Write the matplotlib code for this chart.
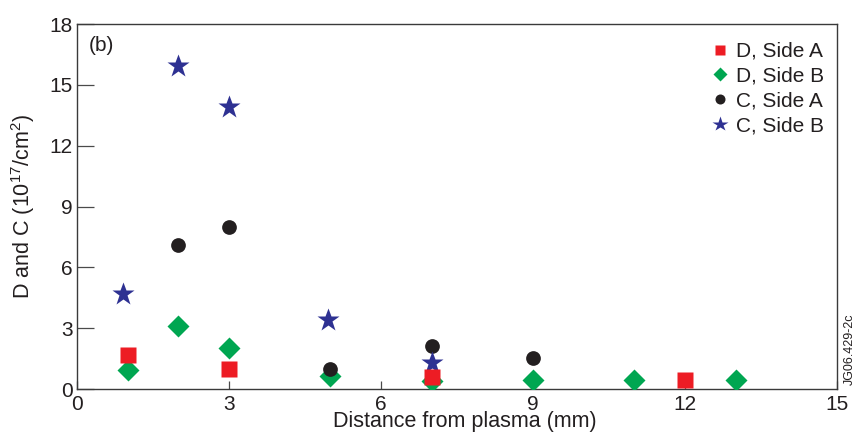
import matplotlib
matplotlib.use("Agg")
import matplotlib.pyplot as plt

plt.rcParams["font.family"] = ["Liberation Sans", "DejaVu Sans"]
plt.rcParams["mathtext.fontset"] = "custom"
plt.rcParams["mathtext.rm"] = "Liberation Sans"

# values
d_side_a_x = [1, 3, 7, 12]
d_side_a_y = [1.68, 1.0, 0.57, 0.45]

d_side_b_x = [1, 2, 3, 5, 7, 9, 11, 13]
d_side_b_y = [0.94, 3.1, 2.0, 0.62, 0.37, 0.44, 0.44, 0.44]

c_side_a_x = [2, 3, 5, 7, 9]
c_side_a_y = [7.1, 8.0, 1.0, 2.14, 1.55]

c_side_b_x = [0.9, 2, 3, 4.95, 7]
c_side_b_y = [4.68, 15.95, 13.9, 3.4, 1.3]

x_ticks = [0, 3, 6, 9, 12, 15]
y_ticks = [0, 3, 6, 9, 12, 15, 18]

RED = "#ED1C24"
GREEN = "#00A651"
BLACK = "#231F20"
BLUE = "#2E3192"
TXT = "#231F20"

fig = plt.figure(figsize=(8.58, 4.36), dpi=100)
ax = fig.add_axes([77 / 858, 47 / 436, 760 / 858, 365 / 436])

h_db, = ax.plot(d_side_b_x, d_side_b_y, "D", ms=10.7, color=GREEN, mec="none",
                ls="none", zorder=3, label="D, Side B")
h_ca, = ax.plot(c_side_a_x, c_side_a_y, "o", ms=10.6, color=BLACK, mec="none",
                ls="none", zorder=4, label="C, Side A")
h_cb, = ax.plot(c_side_b_x, c_side_b_y, "*", ms=17, color=BLUE, mec="none",
                ls="none", zorder=5, label="C, Side B")
h_da, = ax.plot(d_side_a_x, d_side_a_y, "s", ms=11.5, color=RED, mec="none",
                ls="none", zorder=6, label="D, Side A")

ax.set_xlim(0, 15)
ax.set_ylim(0, 18)
ax.set_xticks(x_ticks)
ax.set_yticks(y_ticks)

for s in ax.spines.values():
    s.set_color("#3a3a3a")
    s.set_linewidth(1.0)

ax.tick_params(axis="y", direction="in", length=12, width=0.9, color="#4a4a4a",
               pad=3, labelsize=15, labelcolor=TXT)
ax.tick_params(axis="x", direction="in", length=6, width=0.9, color="#4a4a4a",
               pad=4, labelsize=15, labelcolor=TXT)

ax.set_xlabel("Distance from plasma (mm)", fontsize=15.5, color=TXT)
ax.xaxis.set_label_coords(0.51, -0.061)
ax.set_ylabel("D and C (10$^{\\mathregular{17}}$/cm$^{\\mathregular{2}}$)",
              fontsize=15.5, color=TXT)
ax.yaxis.set_label_coords(-0.052, 0.5)

ax.text(0.0158, 0.94, "(b)", transform=ax.transAxes, fontsize=15,
        color=TXT, ha="left", va="center")

leg = ax.legend(handles=[h_da, h_db, h_ca, h_cb], loc="upper left",
                bbox_to_anchor=(0.8325, 0.951), frameon=False, fontsize=15,
                markerscale=0.68, handlelength=1.0, handletextpad=0.24,
                borderpad=0, borderaxespad=0, labelspacing=0.28)
for t in leg.get_texts():
    t.set_color(TXT)

fig.text(850 / 858, 1 - 349 / 436, "JG06.429-2c", rotation=90, fontsize=9,
         color=TXT, ha="center", va="center")

fig.savefig("out.png", dpi=100)
